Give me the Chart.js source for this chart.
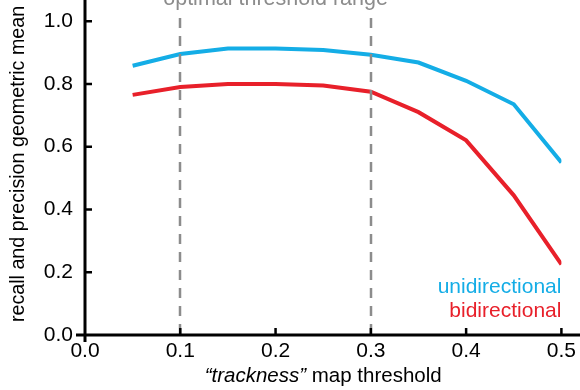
<!DOCTYPE html>
<html>
<head>
<meta charset="utf-8">
<script src="https://cdn.jsdelivr.net/npm/chart.js@4"></script>
<style>
html,body{margin:0;padding:0;background:#fff;}
#wrap{width:580px;height:390px;position:relative;}
</style>
</head>
<body>
<div id="wrap"><canvas id="c" width="580" height="390"></canvas></div>
<script>
const thresholds = [0.05, 0.10, 0.15, 0.20, 0.25, 0.30, 0.35, 0.40, 0.45, 0.50];
const unidirectional = [0.858, 0.895, 0.913, 0.913, 0.908, 0.893, 0.868, 0.810, 0.735, 0.550];
const bidirectional = [0.765, 0.790, 0.800, 0.800, 0.795, 0.775, 0.710, 0.620, 0.445, 0.225];
const xTicks = [0.0, 0.1, 0.2, 0.3, 0.4, 0.5];
const yTicks = [0.0, 0.2, 0.4, 0.6, 0.8, 1.0];
const optimalRange = [0.1, 0.3];
const seriesNames = ['unidirectional', 'bidirectional'];
const yTitle = 'recall and precision geometric mean';
const xTitleItalic = '\u201Ctrackness\u201D';
const xTitleRest = ' map threshold';
const rangeLabel = 'optimal threshold range';

const BLUE = '#14ade6';
const RED = '#e8202a';
const FONT = '"Liberation Sans", Arial, sans-serif';

const overlay = {
  id: 'overlay',
  afterDraw(chart) {
    const ctx = chart.ctx;
    const xs = chart.scales.x, ys = chart.scales.y;
    const ca = chart.chartArea;
    const x0 = xs.getPixelForValue(0), y0 = ys.getPixelForValue(0);
    ctx.save();
    // dashed threshold lines
    ctx.strokeStyle = '#8c8c8c';
    ctx.lineWidth = 2.5;
    ctx.setLineDash([10, 8]);
    optimalRange.forEach(v => {
      const px = Math.round(xs.getPixelForValue(v));
      ctx.beginPath();
      ctx.moveTo(px, 18);
      ctx.lineTo(px, y0);
      ctx.stroke();
    });
    ctx.setLineDash([]);
    ctx.fillStyle = '#8c8c8c';
    ctx.font = '21.5px ' + FONT;
    ctx.textAlign = 'center';
    ctx.textBaseline = 'alphabetic';
    ctx.fillText(rangeLabel, xs.getPixelForValue((optimalRange[0] + optimalRange[1]) / 2), 5);
    // axes
    ctx.strokeStyle = '#000';
    ctx.lineWidth = 3;
    ctx.beginPath();
    ctx.moveTo(x0, 0);
    ctx.lineTo(x0, y0 + 7);
    ctx.moveTo(x0 - 9, y0);
    ctx.lineTo(580, y0);
    ctx.stroke();
    // ticks (inward)
    ctx.lineWidth = 2.5;
    ctx.beginPath();
    yTicks.forEach(v => {
      if (v === 0) return;
      const py = ys.getPixelForValue(v);
      ctx.moveTo(x0, py); ctx.lineTo(x0 + 7, py);
    });
    xTicks.forEach(v => {
      if (v === 0) return;
      const px = xs.getPixelForValue(v);
      ctx.moveTo(px, y0); ctx.lineTo(px, y0 - 7);
    });
    ctx.stroke();
    // legend text
    ctx.textAlign = 'right';
    ctx.font = '21px ' + FONT;
    ctx.fillStyle = BLUE;
    ctx.fillText(seriesNames[0], xs.getPixelForValue(0.5), 293);
    ctx.fillStyle = RED;
    ctx.fillText(seriesNames[1], xs.getPixelForValue(0.5), 317);
    // x title
    ctx.fillStyle = '#000';
    ctx.font = 'italic 20.5px ' + FONT;
    const w1 = ctx.measureText(xTitleItalic).width;
    ctx.font = '20.5px ' + FONT;
    const w2 = ctx.measureText(xTitleRest).width;
    const startX = (ca.left + ca.right) / 2 - (w1 + w2) / 2;
    ctx.textAlign = 'left';
    ctx.font = 'italic 20.5px ' + FONT;
    ctx.fillText(xTitleItalic, startX, 382);
    ctx.font = '20.5px ' + FONT;
    ctx.fillText(xTitleRest, startX + w1, 382);
    // y title
    ctx.translate(19, 164);
    ctx.rotate(-Math.PI / 2);
    ctx.textAlign = 'center';
    ctx.textBaseline = 'middle';
    ctx.font = '19.7px ' + FONT;
    ctx.fillText(yTitle, 0, 0);
    ctx.restore();
  }
};

new Chart(document.getElementById('c'), {
  type: 'line',
  data: {
    datasets: [
      { label: seriesNames[0], data: thresholds.map((x, i) => ({x, y: unidirectional[i]})), borderColor: BLUE, borderWidth: 4, pointRadius: 0, tension: 0, fill: false },
      { label: seriesNames[1], data: thresholds.map((x, i) => ({x, y: bidirectional[i]})), borderColor: RED, borderWidth: 4, pointRadius: 0, tension: 0, fill: false }
    ]
  },
  options: {
    responsive: false,
    animation: false,
    events: [],
    layout: { padding: { top: 0, right: 15, left: 0, bottom: 0 } },
    plugins: { legend: { display: false }, tooltip: { enabled: false } },
    scales: {
      x: {
        type: 'linear', min: 0, max: 0.5,
        afterBuildTicks: s => { s.ticks = xTicks.map(v => ({value: v})); },
        afterFit: s => { s.height = 55; },
        grid: { display: false, drawTicks: false },
        border: { display: false },
        ticks: { color: '#000', font: { family: FONT, size: 21 }, padding: 4, callback: v => v.toFixed(1), maxRotation: 0 }
      },
      y: {
        type: 'linear', min: 0, max: 1.067,
        afterBuildTicks: s => { s.ticks = yTicks.map(v => ({value: v})); },
        afterFit: s => { s.width = 85; },
        grid: { display: true, drawOnChartArea: false, drawTicks: true, tickLength: 12, color: 'rgba(0,0,0,0)' },
        border: { display: false },
        ticks: { color: '#000', font: { family: FONT, size: 21, lineHeight: 0.01 }, padding: 0, callback: v => v.toFixed(1) }
      }
    }
  },
  plugins: [overlay]
});
</script>
</body>
</html>
